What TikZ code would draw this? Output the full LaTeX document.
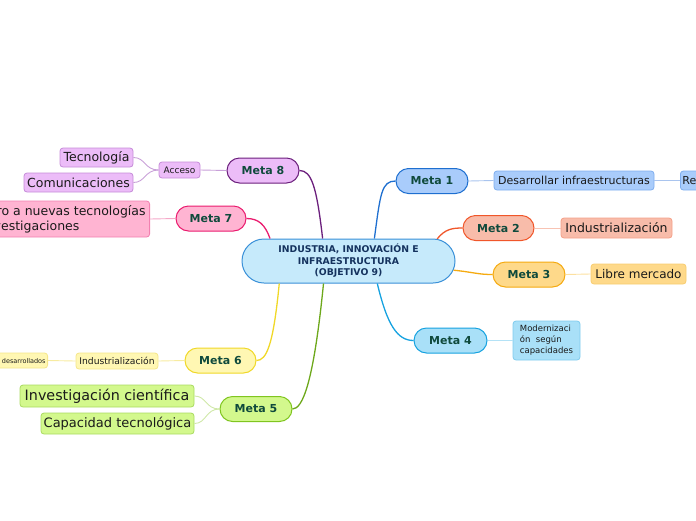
\documentclass[tikz,border=0pt]{standalone}
\usepackage{fontspec}
\setmainfont{DejaVu Sans}
\usetikzlibrary{shapes.misc}

\definecolor{cenF}{HTML}{C6EAFB}
\definecolor{cenB}{HTML}{3A90D8}
\definecolor{cenT}{HTML}{14325E}
\definecolor{metaT}{HTML}{0F4A3C}
\definecolor{hijoT}{HTML}{1A1A1A}
\definecolor{m1F}{HTML}{A9CCFB}\definecolor{m1B}{HTML}{1E6FD0}\definecolor{m1H}{HTML}{7FAEEF}\definecolor{m1L}{HTML}{A9C4EE}
\definecolor{m2F}{HTML}{F8BCAA}\definecolor{m2B}{HTML}{F0562A}\definecolor{m2H}{HTML}{F5A088}\definecolor{m2L}{HTML}{F8C3B3}
\definecolor{m3F}{HTML}{FED98A}\definecolor{m3B}{HTML}{F5AA10}\definecolor{m3H}{HTML}{F8CD70}\definecolor{m3L}{HTML}{FCE0A0}
\definecolor{m4F}{HTML}{A9E0F8}\definecolor{m4B}{HTML}{16A2E0}\definecolor{m4H}{HTML}{80CCEE}\definecolor{m4L}{HTML}{B4E2F6}
\definecolor{m5F}{HTML}{D3F88D}\definecolor{m5B}{HTML}{80C520}\definecolor{m5H}{HTML}{A9DB60}\definecolor{m5L}{HTML}{CFE8A8}
\definecolor{m6F}{HTML}{FFF7B3}\definecolor{m6B}{HTML}{F0D828}\definecolor{m6H}{HTML}{F5E68A}\definecolor{m6L}{HTML}{F7EBA0}
\definecolor{m7F}{HTML}{FFB4D2}\definecolor{m7B}{HTML}{EA1B6E}\definecolor{m7H}{HTML}{F280B0}\definecolor{m7L}{HTML}{F5A8C8}
\definecolor{m8F}{HTML}{ECBCF8}\definecolor{m8B}{HTML}{6B1F7C}\definecolor{m8H}{HTML}{C58CD8}\definecolor{m8L}{HTML}{C8A0D8}

\begin{document}
\begin{tikzpicture}[x=1pt,y=-1pt,
  centro/.style={rounded rectangle,draw=cenB,fill=cenF,line width=1pt,minimum width=213pt,minimum height=44pt,inner sep=0pt,align=center,text=cenT,font=\fontsize{9.3}{11.5}\selectfont\bfseries},
  meta/.style 2 args={rounded rectangle,fill=#1,draw=#2,line width=1pt,minimum width=72pt,minimum height=25pt,inner sep=0pt,text=metaT,font=\fontsize{11}{13}\selectfont\bfseries},
  hijo/.style 2 args={rectangle,rounded corners=3pt,fill=#1,draw=#2,line width=0.8pt,inner xsep=2pt,inner ysep=0pt,text=hijoT},
  rama/.style={line width=1.3pt},
  ramita/.style={line width=0.9pt}]
\useasboundingbox (0,0) rectangle (696,520);
\clip (0,0) rectangle (696,520);

% centro
\node[centro] (centro) at (348.5,261) {INDUSTRIA, INNOVACIÓN E\\INFRAESTRUCTURA\\(OBJETIVO 9)};

% metas
\node[meta={m1F}{m1B}] (m1) at (432,181) {Meta 1};
\node[meta={m2F}{m2B},minimum width=71pt] (m2) at (498.5,228) {Meta 2};
\node[meta={m3F}{m3B}] (m3) at (529,274.5) {Meta 3};
\node[meta={m4F}{m4B},minimum width=73pt] (m4) at (450.5,340.5) {Meta 4};
\node[meta={m5F}{m5B}] (m5) at (256,409) {Meta 5};
\node[meta={m6F}{m6B},minimum width=71pt] (m6) at (220.5,360.5) {Meta 6};
\node[meta={m7F}{m7B},minimum width=70pt] (m7) at (211,218.5) {Meta 7};
\node[meta={m8F}{m8B}] (m8) at (263,170.5) {Meta 8};

% hijos
\node[hijo={m1F}{m1H},minimum width=160pt,minimum height=19pt,font=\fontsize{11}{13}\selectfont] (d1) at (574,180.5) {Desarrollar infraestructuras};
\node[hijo={m1F}{m1H},minimum height=19pt,anchor=west,font=\fontsize{11}{13}\selectfont] (r1) at (680,180.5) {Resilientes};
\node[hijo={m2F}{m2H},minimum width=111pt,minimum height=20pt,font=\fontsize{12.5}{14}\selectfont] (i2) at (616.5,228) {Industrialización};
\node[hijo={m3F}{m3H},minimum width=95pt,minimum height=20pt,font=\fontsize{12}{14}\selectfont] (l3) at (638.5,274) {Libre mercado};
\node[hijo={m4F}{m4H},minimum width=67pt,minimum height=39pt,align=left,font=\fontsize{8.5}{11}\selectfont] (mo4) at (546.5,340.5) {Modernizaci\\ón\ \ según\\capacidades};
\node[hijo={m5F}{m5H},minimum width=174pt,minimum height=22pt,font=\fontsize{14.3}{16}\selectfont] (ic5) at (107,396) {Investigación científica};
\node[hijo={m5F}{m5H},minimum width=153pt,minimum height=21pt,font=\fontsize{13}{15}\selectfont] (ct5) at (117.5,423.5) {Capacidad tecnológica};
\node[hijo={m6F}{m6H},minimum width=82pt,minimum height=16pt,font=\fontsize{9.2}{11}\selectfont] (in6) at (117,361) {Industrialización};
\node[hijo={m6F}{m6H},minimum height=15pt,anchor=east,font=\fontsize{6.5}{8}\selectfont] (pd6) at (48,360.5) {Países menos desarrollados};
\node[hijo={m7F}{m7H},minimum height=36pt,anchor=east,align=left,inner xsep=4pt,font=\fontsize{12.5}{15}\selectfont] (ac7) at (150,219) {Foro a nuevas tecnologías\\investigaciones};
\node[hijo={m8F}{m8H},minimum width=41pt,minimum height=16pt,font=\fontsize{9}{11}\selectfont] (ac8) at (179.5,170) {Acceso};
\node[hijo={m8F}{m8H},minimum width=73pt,minimum height=19pt,font=\fontsize{12.5}{14}\selectfont] (te8) at (96.5,157.5) {Tecnología};
\node[hijo={m8F}{m8H},minimum width=109pt,minimum height=19pt,font=\fontsize{12.5}{14}\selectfont] (co8) at (78.5,182.5) {Comunicaciones};

% ramas principales
\draw[rama,m1B] (centro.41) .. controls +(6,-45) and +(-14,0) .. (m1.west);
\draw[rama,m2B] (centro.14) .. controls +(8,-10) and +(-10,0) .. (m2.west);
\draw[rama,m3B] (centro.-5) .. controls +(20,2) and +(-15,0) .. (m3.west);
\draw[rama,m4B] (centro.-38) .. controls +(10,42) and +(-16,0) .. (m4.west);
\draw[rama,m5B!85!black] (centro.-138) .. controls +(-10,100) and +(10,0) .. (m5.east);
\draw[rama,m6B] (centro.198) .. controls +(-6,62) and +(10,0) .. (m6.east);
\draw[rama,m7B] (centro.164) .. controls +(-5,-14) and +(12,0) .. (m7.east);
\draw[rama,m8B] (centro.139) .. controls +(-6,-52) and +(12,0) .. (m8.east);

% ramas secundarias
\draw[ramita,m1L] (m1.east) -- (d1.west);
\draw[ramita,m1L] (d1.east) -- (r1.west);
\draw[ramita,m2L] (m2.east) -- (i2.west);
\draw[ramita,m3L] (m3.east) -- (l3.west);
\draw[ramita,m4L] (m4.east) -- (mo4.west);
\draw[ramita,m5L] (m5.west) .. controls +(-14,0) and +(12,0) .. (ic5.east);
\draw[ramita,m5L] (m5.west) .. controls +(-14,0) and +(12,0) .. (ct5.east);
\draw[ramita,m6L] (m6.west) -- (in6.east);
\draw[ramita,m6L] (in6.west) -- (pd6.east);
\draw[ramita,m7L] (m7.west) -- (ac7.east);
\draw[ramita,m8L] (m8.west) -- (ac8.east);
\draw[ramita,m8L] (ac8.west) .. controls +(-14,0) and +(12,0) .. (te8.east);
\draw[ramita,m8L] (ac8.west) .. controls +(-14,0) and +(12,0) .. (co8.east);

\end{tikzpicture}
\end{document}
